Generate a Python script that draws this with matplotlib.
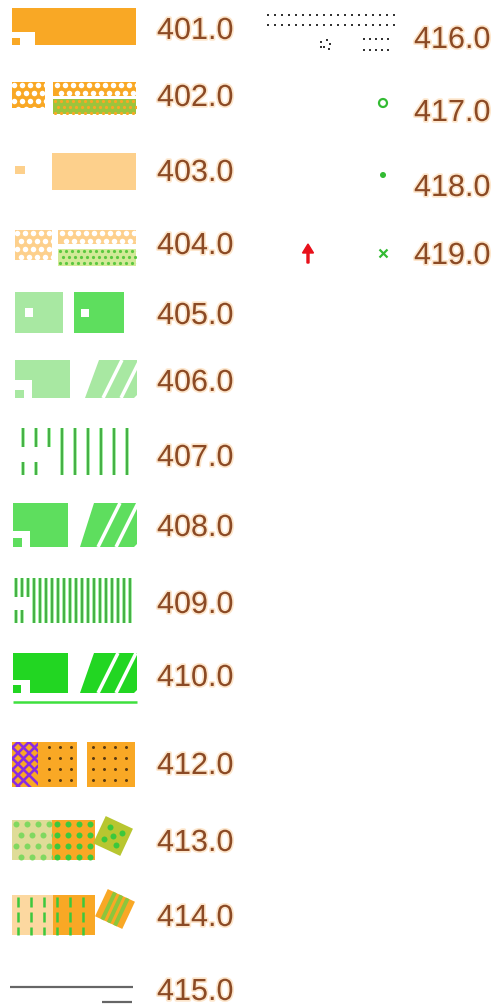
import matplotlib.pyplot as plt
import numpy as np
from matplotlib.patches import Rectangle, Polygon, PathPatch, Circle, FancyArrow
from matplotlib.path import Path
import matplotlib.patheffects as pe

# legend labels
left_labels = ['401.0', '402.0', '403.0', '404.0', '405.0', '406.0', '407.0',
               '408.0', '409.0', '410.0', '412.0', '413.0', '414.0', '415.0']
right_labels = ['416.0', '417.0', '418.0', '419.0']

# colours of the symbols
orange = '#f9a825'
light_orange = '#fdd08c'
pale_green = '#a8e8a2'
mid_green = '#5ede5e'
bright_green = '#22d622'
purple = '#8a2be2'
text_col = '#8b4a25'

# layout (pixels)
left_y = [28, 95, 170, 243, 313, 380, 455, 525, 602, 675, 763, 840, 915, 989]
right_y = [37, 110, 185, 253]

W, H = 502, 1005
fig = plt.figure(figsize=(W / 100, H / 100), dpi=100)
ax = fig.add_axes([0, 0, 1, 1])
ax.set_xlim(0, W)
ax.set_ylim(H, 0)
ax.axis('off')

PX = 100 / 72.0  # pixels per point


def l_path(x0, y0, w, h, nw, nh, sw, sh):
    # block with a notch in the lower-left corner and a small square in it
    verts = [(x0, y0), (x0 + w, y0), (x0 + w, y0 + h), (x0 + nw, y0 + h),
             (x0 + nw, y0 + h - nh), (x0, y0 + h - nh), (x0, y0),
             (x0, y0 + h - sh), (x0 + sw, y0 + h - sh), (x0 + sw, y0 + h),
             (x0, y0 + h), (x0, y0 + h - sh)]
    codes = ([Path.MOVETO] + [Path.LINETO] * 5 + [Path.CLOSEPOLY] +
             [Path.MOVETO] + [Path.LINETO] * 3 + [Path.CLOSEPOLY])
    return Path(verts, codes)


def add_l(x0, y0, w, h, nw, nh, sw, sh, color, visible=True):
    p = PathPatch(l_path(x0, y0, w, h, nw, nh, sw, sh), facecolor=color,
                  edgecolor='none', visible=visible)
    ax.add_patch(p)
    return p


def add_rect(x0, y0, w, h, color):
    r = Rectangle((x0, y0), w, h, facecolor=color, edgecolor='none')
    ax.add_patch(r)
    return r


def dots(clip, x0, x1, y0, y1, step, d, color, stagger=True, marker='o'):
    xs, ys = [], []
    for i, y in enumerate(np.arange(y0, y1 + step, step)):
        off = step / 2 if (stagger and i % 2) else 0
        for x in np.arange(x0 + off, x1 + step, step):
            xs.append(x)
            ys.append(y)
    sc = ax.scatter(xs, ys, s=(d / PX) ** 2, c=color, marker=marker,
                    linewidths=0, zorder=3)
    sc.set_clip_path(clip)


def striped(x0, y0, w, h, color):
    poly = Polygon([(x0, y0 + h), (x0 + 14, y0), (x0 + w, y0),
                    (x0 + w, y0 + h - 3), (x0 + w - 3, y0 + h)],
                   closed=True, facecolor=color, edgecolor='none')
    ax.add_patch(poly)
    for bx in (x0 + 18, x0 + 36):
        ln, = ax.plot([bx, bx + 0.5 * h], [y0 + h, y0], color='white',
                      lw=3.5 / PX, solid_capstyle='butt', zorder=3)
        ln.set_clip_path(poly)


def vlines(clip, xs, y0, y1):
    a = ax.vlines(xs, y0, y1, colors='#a4f0a4', lw=4 / PX, zorder=3)
    b = ax.vlines(xs, y0, y1, colors='#30a030', lw=1.6 / PX, zorder=4)
    a.set_clip_path(clip)
    b.set_clip_path(clip)


def rotated_square(cx, cy, size, angle, color):
    t = np.deg2rad(angle)
    rot = np.array([[np.cos(t), -np.sin(t)], [np.sin(t), np.cos(t)]])
    corners = np.array([[-1, -1], [1, -1], [1, 1], [-1, 1]]) * size / 2
    pts = corners @ rot.T + [cx, cy]
    poly = Polygon(pts, closed=True, facecolor=color, edgecolor='none')
    ax.add_patch(poly)
    return poly, rot


# ---- left column symbols ----
y = left_y[0]
add_l(12, y - 20, 124, 37, 23, 13, 8, 7, orange)

y = left_y[1]
r = add_rect(12, y - 13, 33, 26, orange)
dots(r, 14, 45, y - 10, y + 13, 8, 5.5, 'white')
r = add_rect(53, y - 13, 83, 14, orange)
dots(r, 57, 136, y - 10, y + 1, 8, 5.5, 'white')
r = add_rect(53, y + 4, 83, 15, '#9cc43c')
dots(r, 55, 136, y + 6, y + 19, 6, 3.2, orange)

y = left_y[2]
add_rect(15, y - 4, 10, 8, light_orange)
add_rect(52, y - 17, 84, 37, light_orange)

y = left_y[3]
r = add_rect(15, y - 13, 37, 30, light_orange)
dots(r, 17, 52, y - 10, y + 17, 8, 5.5, 'white')
r = add_rect(58, y - 13, 78, 14, light_orange)
dots(r, 62, 136, y - 10, y + 1, 8, 5.5, 'white')
r = add_rect(58, y + 6, 78, 17, '#d2ea98')
dots(r, 60, 136, y + 8, y + 23, 6, 3.2, '#5cc840')

y = left_y[4]
add_rect(15, y - 21, 48, 41, pale_green)
add_rect(25, y - 5, 8, 9, 'white')
add_rect(74, y - 21, 50, 41, mid_green)
add_rect(81, y - 4, 8, 8, 'white')

y = left_y[5]
add_l(15, y - 20, 55, 38, 17, 18, 9, 8, pale_green)
striped(85, y - 20, 52, 38, pale_green)

y = left_y[6]
clip = add_l(18, y - 27, 112, 47, 36, 28, 22, 13, 'none', visible=False)
vlines(clip, np.arange(23, 130, 13), y - 27, y + 20)

y = left_y[7]
add_l(13, y - 22, 55, 44, 17, 16, 9, 9, mid_green)
striped(80, y - 22, 57, 44, mid_green)

y = left_y[8]
clip = add_l(14, y - 24, 122, 45, 18, 26, 11, 13, 'none', visible=False)
vlines(clip, np.arange(16, 136, 6), y - 24, y + 21)

y = left_y[9]
add_l(13, y - 22, 55, 40, 17, 13, 8, 8, bright_green)
striped(80, y - 22, 57, 40, bright_green)
ax.hlines(y + 27, 13, 137, colors='#3ee03e', lw=2.5 / PX)

y = left_y[10]
add_rect(12, y - 21, 65, 45, orange)
r = add_rect(12, y - 21, 26, 45, orange)
for k in np.arange(-60, 60, 11):
    for sgn in (1, -1):
        ln, = ax.plot([12 + k, 12 + k + sgn * 45], [y - 21, y + 24],
                      color=purple, lw=2.6 / PX, zorder=3)
        ln.set_clip_path(r)
r2 = add_rect(38, y - 21, 39, 45, orange)
dots(r2, 49, 77, y - 16, y + 24, 11, 3, '#5a3a10', stagger=False)
r = add_rect(87, y - 21, 48, 45, orange)
dots(r, 93, 135, y - 16, y + 24, 11, 3, '#5a3a10', stagger=False)

y = left_y[11]
r = add_rect(12, y - 20, 40, 40, '#dfdc98')
dots(r, 16, 52, y - 16, y + 20, 11, 6, '#80d860')
r = add_rect(52, y - 20, 43, 40, orange)
dots(r, 57, 95, y - 16, y + 20, 11, 6, '#3cc83c', stagger=False)
poly, rot = rotated_square(113, y - 4, 30, 25, '#b8c630')
loc = np.array([[-7, -7], [7, -7], [-7, 7], [7, 7], [0, 0]]) @ rot.T + [113, y - 4]
ax.scatter(loc[:, 0], loc[:, 1], s=(6 / PX) ** 2, c='#3cc83c', linewidths=0, zorder=3)

y = left_y[12]
add_rect(12, y - 20, 41, 40, '#fcd8a0')
add_rect(53, y - 20, 42, 40, orange)
ax.vlines(np.arange(18, 95, 13), y - 18, y + 20, colors='#3cc83c',
          lw=2.5 / PX, linestyles=(0, (4, 2)), zorder=3)
poly, rot = rotated_square(115, y - 6, 30, 25, orange)
for off in (-7, 0, 7):
    seg = np.array([[off, -15], [off, 15]]) @ rot.T + [115, y - 6]
    ln, = ax.plot(seg[:, 0], seg[:, 1], color='#8cc63c', lw=4 / PX, zorder=3)
    ln.set_clip_path(poly)

y = left_y[13]
ax.hlines(y - 2, 10, 133, colors='#666666', lw=2.2 / PX)
ax.hlines(y + 13, 102, 132, colors='#666666', lw=2.2 / PX)

# ---- right column symbols ----
y = right_y[0]
for dy, step in ((-22, 7), (-12, 7)):
    xs = np.arange(268, 395, step)
    ax.scatter(xs, np.full(len(xs), y + dy), s=(2.2 / PX) ** 2, c='#333333',
               linewidths=0, marker='s')
for dy in (2, 13):
    xs = np.arange(364, 394, 6)
    ax.scatter(xs, np.full(len(xs), y + dy), s=(2.2 / PX) ** 2, c='#333333',
               linewidths=0, marker='s')
cl = np.array([[-4, 0], [2, -2], [5, 2], [-1, 5], [4, 7], [-4, 5]]) + [325, y + 5]
ax.scatter(cl[:, 0], cl[:, 1], s=(2.2 / PX) ** 2, c='#333333', linewidths=0, marker='s')

y = right_y[1]
ax.add_patch(Circle((383, y - 7), 4, facecolor='none', edgecolor='#33bb33', lw=2.2 / PX))

y = right_y[2]
ax.add_patch(Circle((383, y - 10), 3, facecolor='#33bb33', edgecolor='none'))

y = right_y[3]
ax.add_patch(FancyArrow(308, y + 10, 0, -19, width=2, head_width=11, head_length=9,
                        length_includes_head=True, color='#e8101a'))
ax.scatter([383], [y], marker='x', s=(8 / PX) ** 2, c='#33bb33', linewidths=2.2 / PX)

# ---- labels (baseline set so the digits sit centred on the row) ----
halo = [pe.withStroke(linewidth=2.5, foreground='#fde6cc')]
for lab, yy in zip(left_labels, left_y):
    ax.text(157, yy + 11, lab, fontsize=22, family='Liberation Sans', color=text_col,
            ha='left', va='baseline', path_effects=halo)
for lab, yy in zip(right_labels, right_y):
    ax.text(414, yy + 11, lab, fontsize=22, family='Liberation Sans', color=text_col,
            ha='left', va='baseline', path_effects=halo)

fig.savefig('out.png', dpi=100)
